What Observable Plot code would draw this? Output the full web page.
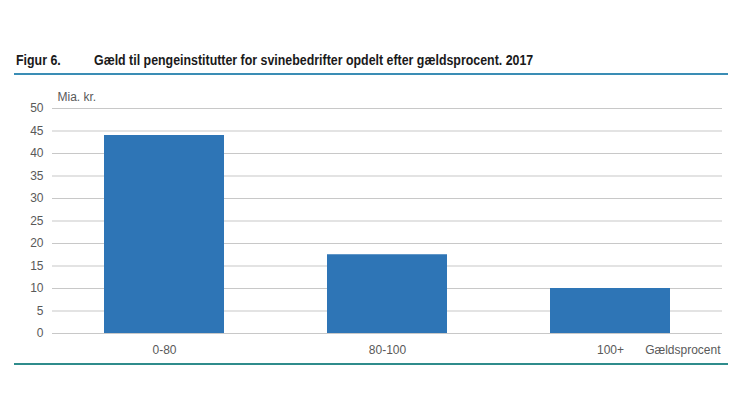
<!DOCTYPE html>
<html>
<head>
<meta charset="utf-8">
<script src="https://cdn.jsdelivr.net/npm/d3@7"></script>
<script src="https://cdn.jsdelivr.net/npm/@observablehq/plot@0.6"></script>
<style>
  html, body { margin: 0; padding: 0; background: #fff; }
  body { width: 740px; height: 416px; position: relative; overflow: hidden;
         font-family: "Liberation Sans", Arial, sans-serif; }
  .t { position: absolute; top: 52px; font-size: 14px; font-weight: bold; color: #1a1a1a; white-space: nowrap;
       transform: scaleX(0.885); transform-origin: left center; }
  #topline { position: absolute; left: 14px; width: 714px; top: 73px; height: 2px; background: #3a8db5; }
  #bottomline { position: absolute; left: 14px; width: 714px; top: 363px; height: 2px; background: #2f8c8c; }
  #chart { position: absolute; left: 0; top: 80px; }
</style>
</head>
<body>
<div class="t" style="left:16px">Figur 6.</div>
<div class="t" style="left:94px">Gæld til pengeinstitutter for svinebedrifter opdelt efter gældsprocent. 2017</div>
<div id="topline"></div>
<div id="chart"></div>
<div id="bottomline"></div>
<script>
const categories = ["0-80", "80-100", "100+"];
const values = [44, 17.5, 10];
const yTicks = [0, 5, 10, 15, 20, 25, 30, 35, 40, 45, 50];
const yUnit = "Mia. kr.";
const xTitle = "Gældsprocent";

const data = categories.map((c, i) => ({category: c, value: values[i]}));

const chart = Plot.plot({
  width: 740,
  height: 300,
  marginTop: 28,
  marginBottom: 47,
  marginLeft: 52,
  marginRight: 18,
  style: {fontFamily: '"Liberation Sans", Arial, sans-serif', fontSize: "12px", color: "#595959", background: "transparent"},
  x: {domain: categories, paddingInner: 0.46, paddingOuter: 0.23, label: null},
  y: {domain: [0, 50], label: null},
  marks: [
    Plot.gridY(yTicks, {stroke: "#c8c8c8", strokeOpacity: 1, strokeWidth: 1.2}),
    Plot.barY(data, {x: "category", y: "value", fill: "#2e75b6"}),
    Plot.axisY(yTicks, {tickSize: 0, tickPadding: 9, label: null, fill: "#595959"}),
    Plot.axisX({tickSize: 0, tickPadding: 12, label: null, fill: "#595959"}),
    Plot.text([yUnit], {text: d => d, frameAnchor: "top-left", textAnchor: "start", lineAnchor: "bottom", dx: 5, dy: -8, fill: "#595959"}),
    Plot.text([xTitle], {text: d => d, frameAnchor: "bottom-right", textAnchor: "end", lineAnchor: "top", dx: -2, dy: 12, fill: "#595959"})
  ]
});
document.getElementById("chart").appendChild(chart);
</script>
</body>
</html>
